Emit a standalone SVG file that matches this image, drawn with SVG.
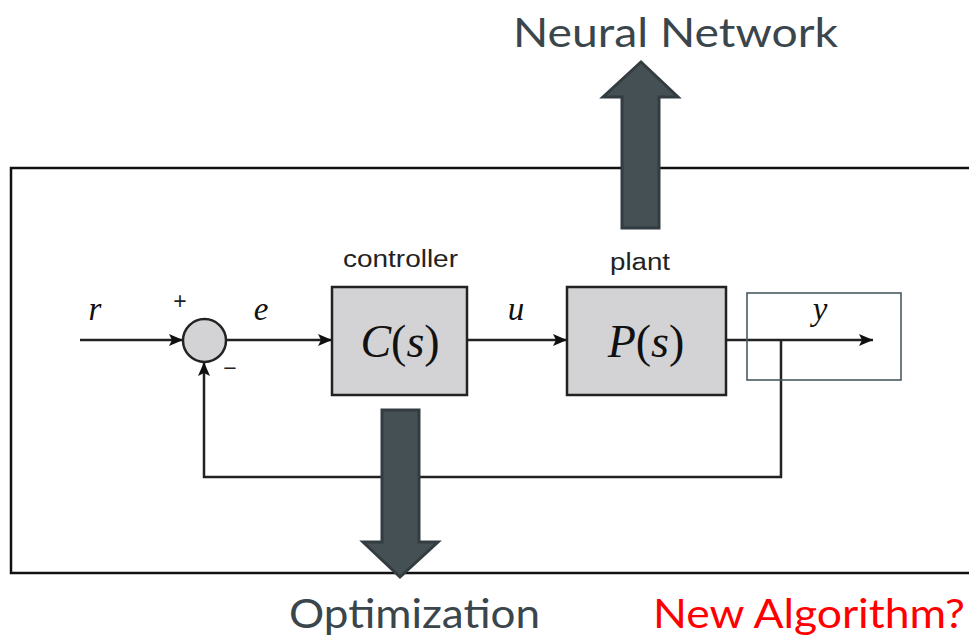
<svg xmlns="http://www.w3.org/2000/svg" width="969" height="643" viewBox="0 0 969 643">
<defs>
<style>
.frame{fill:none;stroke:#111;stroke-width:2.5}
.blk{fill:#d3d3d5;stroke:#222;stroke-width:2.5}
.wire{fill:none;stroke:#222;stroke-width:2.5}
.big{fill:#455055;stroke:#333c40;stroke-width:3;stroke-linejoin:miter}
.math{font-family:"Liberation Serif",serif;fill:#111}
.lbl{font-family:"Liberation Sans",Arial,sans-serif;fill:#222;font-size:23px}
.title{font-family:Lato,"Open Sans",sans-serif;font-size:41px;font-weight:400}
</style>
<marker id="ah" viewBox="0 0 14 12" refX="14" refY="6" markerWidth="14" markerHeight="12" markerUnits="userSpaceOnUse" orient="auto">
<path d="M0,0 L14,6 L0,12 L3,6 Z" fill="#111"/>
</marker>
</defs>
<rect width="969" height="643" fill="#fff"/>
<g id="frame">
<path class="frame" d="M975,168 H11 V573 H975"/>
</g>
<g id="connectors">
<line class="wire" x1="80" y1="340" x2="183" y2="340" marker-end="url(#ah)"/>
<line class="wire" x1="226" y1="340" x2="332" y2="340" marker-end="url(#ah)"/>
<line class="wire" x1="467" y1="340" x2="567" y2="340" marker-end="url(#ah)"/>
<line class="wire" x1="726" y1="340" x2="873" y2="340" marker-end="url(#ah)"/>
<path class="wire" d="M781,340 V477 H204 V362" marker-end="url(#ah)"/>
</g>
<g id="sum">
<circle cx="204.5" cy="340.5" r="21.5" fill="#d3d3d5" stroke="#222" stroke-width="2.5"/>
<text x="180" y="309" class="lbl" font-size="22" text-anchor="middle">+</text>
<text x="230" y="376" class="lbl" font-size="22" text-anchor="middle">−</text>
</g>
<g id="controller">
<rect class="blk" x="332" y="287" width="135" height="108"/>
<text class="lbl" x="343" y="267" textLength="115" lengthAdjust="spacingAndGlyphs">controller</text>
<text class="math" x="400" y="357" font-size="46" text-anchor="middle"><tspan font-style="italic">C</tspan>(<tspan font-style="italic">s</tspan>)</text>
</g>
<g id="plant">
<rect class="blk" x="567" y="287" width="159" height="108"/>
<text class="lbl" x="610" y="270" textLength="60" lengthAdjust="spacingAndGlyphs">plant</text>
<text class="math" x="646" y="357" font-size="46" text-anchor="middle"><tspan font-style="italic">P</tspan>(<tspan font-style="italic">s</tspan>)</text>
</g>
<g id="ybox">
<rect x="747" y="293" width="154" height="87" fill="none" stroke="#4a5a62" stroke-width="1.6"/>
</g>
<g id="signals">
<text class="math" x="95" y="320" font-size="33" font-style="italic" text-anchor="middle">r</text>
<text class="math" x="261" y="320" font-size="33" font-style="italic" text-anchor="middle">e</text>
<text class="math" x="516" y="320" font-size="33" font-style="italic" text-anchor="middle">u</text>
<text class="math" x="820" y="320" font-size="33" font-style="italic" text-anchor="middle">y</text>
</g>
<g id="neural">
<path class="big" d="M622,228 V97 H603 L641,62 L678,97 H659 V228 Z"/>
<text class="title" x="513" y="47" fill="#3a464c" textLength="325" lengthAdjust="spacingAndGlyphs">Neural Network</text>
</g>
<g id="optimization">
<path class="big" d="M382,410 H419 V542 H438 L400,577 L363,542 H382 Z"/>
<text class="title" x="289" y="628" fill="#3a464c" textLength="251" lengthAdjust="spacingAndGlyphs">Optimization</text>
</g>
<g id="newalg">
<text class="title" x="653" y="628" fill="#ff0000" textLength="312" lengthAdjust="spacingAndGlyphs">New Algorithm?</text>
</g>
</svg>
